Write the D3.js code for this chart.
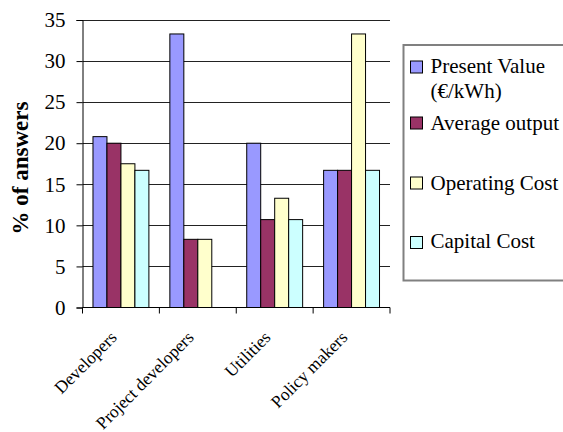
<!DOCTYPE html>
<html>
<head>
<meta charset="utf-8">
<script src="https://cdn.jsdelivr.net/npm/d3@7"></script>
<style>
  html, body { margin: 0; padding: 0; background: #fff; }
  svg text { font-family: "Liberation Serif", "Times New Roman", Times, serif; }
</style>
</head>
<body>
<svg id="chart" width="563" height="432"></svg>
<script>
// Survey groups on the x axis
const categories = ["Developers", "Project developers", "Utilities", "Policy makers"];

// Share of answers (%) for each series, one value per group
const presentValue  = [20.8, 33.3, 20.0, 16.7];
const averageOutput = [20.0,  8.3, 10.7, 16.7];
const operatingCost = [17.5,  8.3, 13.3, 33.3];
const capitalCost   = [16.7,  0.0, 10.7, 16.7];

const yTicks = [0, 5, 10, 15, 20, 25, 30, 35];

const seriesValues = [presentValue, averageOutput, operatingCost, capitalCost];
const colors = ["#9999FF", "#993366", "#FFFFCC", "#CCFFFF"];
const FONT = '"Liberation Serif", "Times New Roman", Times, serif';

const svg = d3.select("#chart");
const plot = { left: 82.5, right: 390, top: 20, bottom: 307.5 };

const x = d3.scaleBand().domain(categories).range([plot.left, plot.right]).padding(0);
const y = d3.scaleLinear().domain([0, 35]).range([plot.bottom, plot.top]);

// Horizontal gridlines
svg.append("g")
  .selectAll("line")
  .data(yTicks.filter(t => t > 0))
  .join("line")
  .attr("x1", plot.left).attr("x2", plot.right)
  .attr("y1", d => Math.round(y(d)) + 0.5).attr("y2", d => Math.round(y(d)) + 0.5)
  .attr("stroke", "#222").attr("stroke-width", 1);

// Bars: 4 per group, gap of 1.5 bar widths between groups
const barW = x.bandwidth() / 5.5;
const groups = svg.append("g")
  .selectAll("g")
  .data(categories)
  .join("g")
  .attr("transform", d => `translate(${x(d) + barW * 0.75},0)`);

groups.selectAll("rect")
  .data((c, ci) => seriesValues.map((vals, si) => ({ si, v: vals[ci] })))
  .join("rect")
  .filter(d => d.v > 0)
  .attr("x", d => d.si * barW)
  .attr("width", barW)
  .attr("y", d => y(d.v))
  .attr("height", d => y(0) - y(d.v))
  .attr("fill", d => colors[d.si])
  .attr("stroke", "#000")
  .attr("stroke-width", 1);

// Y axis
const yAxis = svg.append("g")
  .attr("transform", `translate(${plot.left},0)`)
  .call(d3.axisLeft(y).tickValues(yTicks).tickSize(6).tickPadding(11));
yAxis.select(".domain").attr("stroke", "#000");
yAxis.selectAll(".tick line").attr("stroke", "#000");
yAxis.selectAll("text")
  .attr("font-size", 21)
  .style("font-family", FONT)
  .attr("fill", "#000");

// X axis with ticks between groups
const xAxisG = svg.append("g").attr("transform", `translate(0,${plot.bottom})`);
xAxisG.append("line")
  .attr("x1", plot.left).attr("x2", plot.right)
  .attr("y1", 0).attr("y2", 0)
  .attr("stroke", "#000");
const boundaries = categories.map(c => x(c)).concat([plot.right]);
xAxisG.selectAll("line.tk")
  .data(boundaries)
  .join("line")
  .attr("class", "tk")
  .attr("x1", d => d).attr("x2", d => d)
  .attr("y1", 0).attr("y2", 6)
  .attr("stroke", "#000");

xAxisG.selectAll("text")
  .data(categories)
  .join("text")
  .attr("transform", d => `translate(${x(d) + x.bandwidth() / 2 - 3},${31}) rotate(-45)`)
  .attr("text-anchor", "end")
  .attr("font-size", 17.5)
  .style("font-family", FONT)
  .attr("fill", "#000")
  .text(d => d);

// Y axis title
svg.append("text")
  .attr("transform", `translate(28,${168}) rotate(-90)`)
  .attr("text-anchor", "middle")
  .attr("font-size", 23)
  .attr("font-weight", "bold")
  .style("font-family", FONT)
  .attr("fill", "#000")
  .text("% of answers");

// Legend
const legend = svg.append("g");
legend.append("rect")
  .attr("x", 403.5).attr("y", 45)
  .attr("width", 170).attr("height", 235.5)
  .attr("fill", "#fff")
  .attr("stroke", "#808080")
  .attr("stroke-width", 2);

const legendRows = [
  { lines: ["Present Value", "(€/kWh)"], y: 61, base: 73 },
  { lines: ["Average output"], y: 117, base: 130 },
  { lines: ["Operating Cost"], y: 177, base: 190 },
  { lines: ["Capital Cost"], y: 236.5, base: 248 }
];
legendRows.forEach((row, i) => {
  legend.append("rect")
    .attr("x", 410.5).attr("y", row.y)
    .attr("width", 12).attr("height", 12)
    .attr("fill", colors[i])
    .attr("stroke", "#000");
  row.lines.forEach((t, j) => {
    legend.append("text")
      .attr("x", 430.5).attr("y", row.base + j * 25)
      .attr("font-size", 21)
      .style("font-family", FONT)
      .attr("fill", "#000")
      .text(t);
  });
});
</script>
</body>
</html>
